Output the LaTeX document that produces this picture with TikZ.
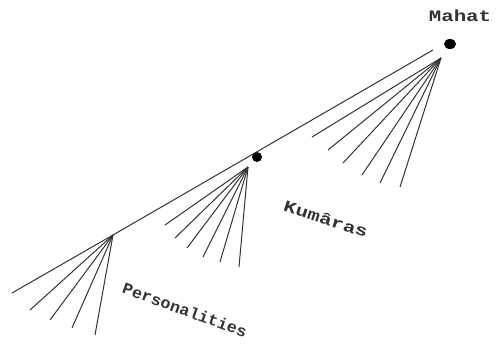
\documentclass[tikz,border=0pt]{standalone}
\usepackage{fontspec}
\setmonofont{Liberation Mono}
\usepackage{tikz}
\usetikzlibrary{positioning,calc}
\tikzset{
  ray/.style={draw=black!80, line width=1pt},
  dot/.style={circle, fill=black, inner sep=0pt, minimum size=10pt},
  lbl/.style={font=\ttfamily\bfseries\fontsize{16}{16}\selectfont, text=black!80, inner sep=0pt},
}

\begin{document}
\begin{tikzpicture}[x=1pt, y=-1pt]
\useasboundingbox (0,0) rectangle (499,354);
\node[dot, xscale=1.2] (mahat) at (450,44) {};
\node[dot] (kumaras) at (257,157) {};
\node[lbl] (mahatlbl) at (460,16) {\scalebox{1.3}[1]{Mahat}};
\node[lbl, rotate=-18] (kumlbl) at (326,219) {\scalebox{1.3}[1]{Kumâras}};
\node[lbl, rotate=-20] (perslbl) at (185,310) {\scalebox{1.05}[1]{Personalities}};
\coordinate (maintop) at (433,50);
\coordinate (mainend) at (12,293);
\coordinate (mahattip) at (441,58);
\coordinate (kumtip) at (248,167);
\coordinate (perstip) at (113,235);
\draw[ray] (maintop) -- (perstip) -- (mainend);
\foreach \x/\y [count=\i] in {312/137,328/150,343/163,362/175,380/183,400/187}
  {\coordinate (m\i) at (\x,\y); \draw[ray] (mahattip) -- (m\i);}
\foreach \x/\y [count=\i] in {165/225,175/238,187/248,203/257,220/262,239/267}
  {\coordinate (k\i) at (\x,\y); \draw[ray] (kumtip) -- (k\i);}
\foreach \x/\y [count=\i] in {30/310,50/320,72/328,95/335}
  {\coordinate (p\i) at (\x,\y); \draw[ray] (perstip) -- (p\i);}
\end{tikzpicture}
\end{document}
